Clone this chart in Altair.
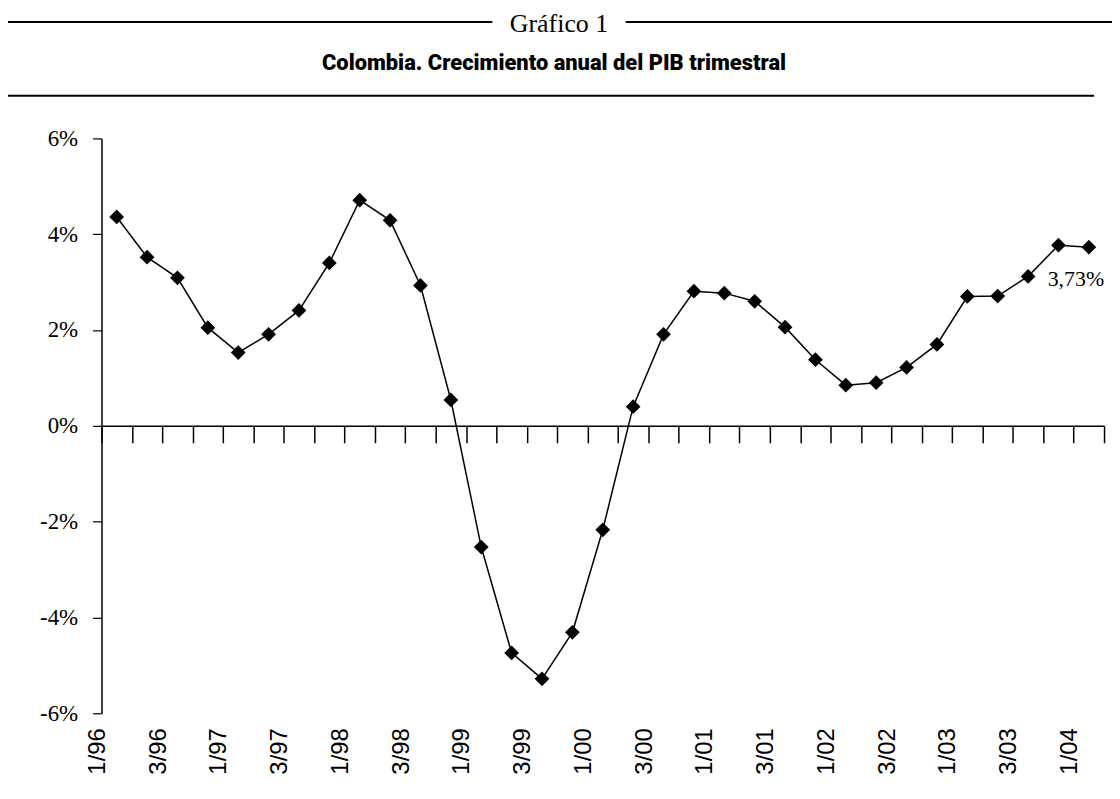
import altair as alt
import pandas as pd

quarters = [
    "1/96", "2/96", "3/96", "4/96",
    "1/97", "2/97", "3/97", "4/97",
    "1/98", "2/98", "3/98", "4/98",
    "1/99", "2/99", "3/99", "4/99",
    "1/00", "2/00", "3/00", "4/00",
    "1/01", "2/01", "3/01", "4/01",
    "1/02", "2/02", "3/02", "4/02",
    "1/03", "2/03", "3/03", "4/03",
    "1/04",
]
growth = [
    4.36, 3.52, 3.09, 2.05,
    1.53, 1.91, 2.41, 3.40,
    4.71, 4.29, 2.93, 0.54,
    -2.53, -4.74, -5.28, -4.31,
    -2.17, 0.40, 1.91, 2.81,
    2.77, 2.60, 2.06, 1.38,
    0.85, 0.90, 1.22, 1.70,
    2.70, 2.71, 3.12, 3.77,
    3.73,
]
tick_labels = ["1/96", "3/96", "1/97", "3/97", "1/98", "3/98", "1/99", "3/99",
               "1/00", "3/00", "1/01", "3/01", "1/02", "3/02", "1/03", "3/03", "1/04"]
y_ticks = [-6, -4, -2, 0, 2, 4, 6]
chart_title = "Gráfico 1"
chart_subtitle = "Colombia. Crecimiento anual del PIB trimestral"
last_quarter = "1/04"
last_label = "3,73%"

df = pd.DataFrame({"quarter": quarters, "growth": growth})
df["label"] = [q if q in tick_labels else "" for q in quarters]
df["note"] = [last_label if q == last_quarter else "" for q in quarters]

W, H = 1008, 578
SERIF = "Liberation Serif"
SANS = "Liberation Sans"

xscale = alt.Scale(type="band", paddingInner=0, paddingOuter=0)
x_main = alt.X(
    "quarter:N", sort=quarters, scale=xscale,
    axis=alt.Axis(title=None, labels=False, grid=False, domain=True,
                  domainColor="black", domainWidth=1.5, ticks=True,
                  tickBand="extent", tickSize=17, tickColor="black",
                  tickWidth=1.5, offset=-H / 2),
)
y_main = alt.Y(
    "growth:Q", scale=alt.Scale(domain=[-6, 6], nice=False, zero=False),
    axis=alt.Axis(values=y_ticks, title=None, grid=False,
                  labelExpr="datum.value + '%'", labelFont=SERIF,
                  labelFontSize=23, labelColor="black", labelPadding=15,
                  tickSize=9, tickColor="black", tickWidth=1.2,
                  domainColor="black", domainWidth=1.5),
)

base = alt.Chart(df)
line = base.mark_line(color="black", strokeWidth=1.5).encode(x=x_main, y=y_main)
pts = base.mark_point(shape="diamond", filled=True, color="black",
                      size=220, opacity=1).encode(x=x_main, y=y_main)
xlabels = base.mark_text(angle=270, align="right", baseline="middle", dy=-19,
                         font=SANS, fontSize=24, color="black").encode(
    x=x_main, y=alt.value(H + 15), text="label:N")
note = base.transform_filter(alt.datum.note != "").mark_text(
    align="center", baseline="middle", dx=-13, dy=32, font=SERIF,
    fontSize=22, color="black").encode(x=x_main, y=y_main, text="note:N")

tdf = pd.DataFrame({"t": [chart_title], "s": [chart_subtitle]})
title1 = alt.Chart(tdf).mark_text(font=SERIF, fontSize=26, color="black",
                                  baseline="middle", align="center").encode(
    x=alt.value(460), y=alt.value(-115), text="t:N")
title2 = alt.Chart(tdf).mark_text(font="Roboto", fontWeight=900, fontSize=22,
                                  color="black", baseline="middle",
                                  align="center").encode(
    x=alt.value(455), y=alt.value(-76), text="s:N")

rule_l = alt.Chart(tdf).mark_rule(color="black", strokeWidth=2).encode(
    x=alt.value(-94), x2=alt.value(393), y=alt.value(-117))
rule_r = alt.Chart(tdf).mark_rule(color="black", strokeWidth=2).encode(
    x=alt.value(527), x2=alt.value(1016), y=alt.value(-117))
rule_b = alt.Chart(tdf).mark_rule(color="black", strokeWidth=2).encode(
    x=alt.value(-94), x2=alt.value(998), y=alt.value(-43))

chart = alt.layer(
    rule_l, rule_r, rule_b, title1, title2, line, pts, xlabels, note
).properties(
    width=W, height=H,
    padding={"left": 94, "top": 129, "right": 8, "bottom": 72},
    autosize=alt.AutoSizeParams(type="none"),
).configure_view(stroke=None)

chart.save("out.html", embed_options={"renderer": "svg", "actions": False})
